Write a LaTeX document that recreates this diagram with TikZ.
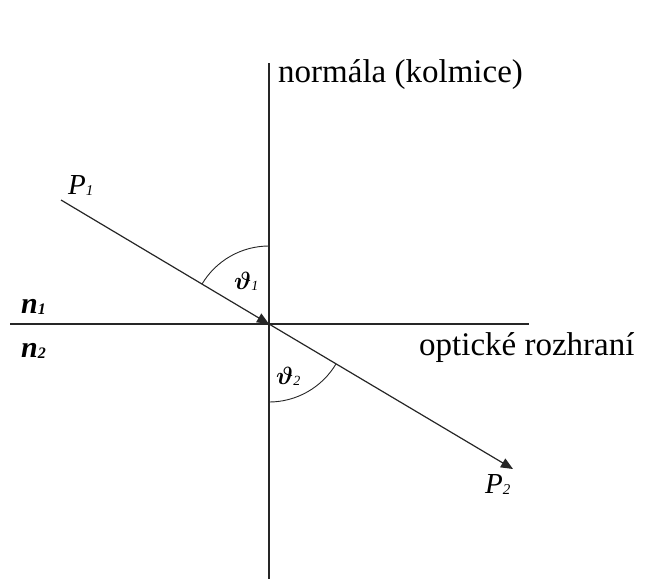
\documentclass[tikz,border=0pt]{standalone}
\usepackage{fontspec}
\usepackage{amsmath}
\setmainfont{Liberation Serif}
\usetikzlibrary{arrows.meta}
\newcommand\mysub[2][15]{\raisebox{-1pt}{\fontsize{#1}{#1}\selectfont\itshape #2}}
\begin{document}
\begin{tikzpicture}[x=1pt,y=-1pt,
  ln/.style={line width=1.2pt, draw=black!85},
  rayarrow/.style={ln, -{Triangle[length=12pt,width=10pt]}},
  anglearc/.style={line width=0.9pt, draw=black!85},
  lab/.style={inner sep=0pt, anchor=base west, font=\fontsize{33}{36}\selectfont},
  sym/.style={inner sep=0pt, anchor=base west, font=\fontsize{29}{32}\selectfont\itshape},
  nsym/.style={inner sep=0pt, anchor=base west, font=\fontsize{30}{32}\selectfont\bfseries\itshape},
  thsym/.style={inner sep=0pt, anchor=base west, font=\fontsize{25}{28}\selectfont}]
\useasboundingbox (0,0) rectangle (656,579);
\coordinate (O) at (269,324);
\coordinate (top) at (269,63);
\coordinate (bottom) at (269,579);
\coordinate (left) at (10,324);
\coordinate (right) at (529,324);
\coordinate (A) at (61,200);
\coordinate (B) at (513,469);
% normal and interface
\draw[ln] (top) -- (bottom);
\draw[ln] (left) -- (right);
% rays
\draw[rayarrow] (A) -- (O);
\draw[rayarrow] (O) -- (B);
% angle arcs
\draw[anglearc] (O) ++(270:78) arc[start angle=270, end angle=210.8, radius=78];
\draw[anglearc] (O) ++(90:78) arc[start angle=90, end angle=30.7, radius=78];
% labels
\node[lab] (tnormal) at (278,82) {normála (kolmice)};
\node[lab] (tinter) at (419,355) {optické rozhraní};
\node[sym] (tP1) at (68,194) {P\mysub{1}};
\node[sym] (tP2) at (485,493) {P\mysub{2}};
\node[nsym] (tn1) at (21,313) {n\mysub[16]{\bfseries 1}};
\node[nsym] (tn2) at (21,357) {n\mysub[16]{\bfseries 2}};
\node[thsym] (tth1) at (234,289) {$\boldsymbol{\vartheta}$\mysub[14]{1}};
\node[thsym] (tth2) at (276,384) {$\boldsymbol{\vartheta}$\mysub[14]{2}};
\end{tikzpicture}
\end{document}
